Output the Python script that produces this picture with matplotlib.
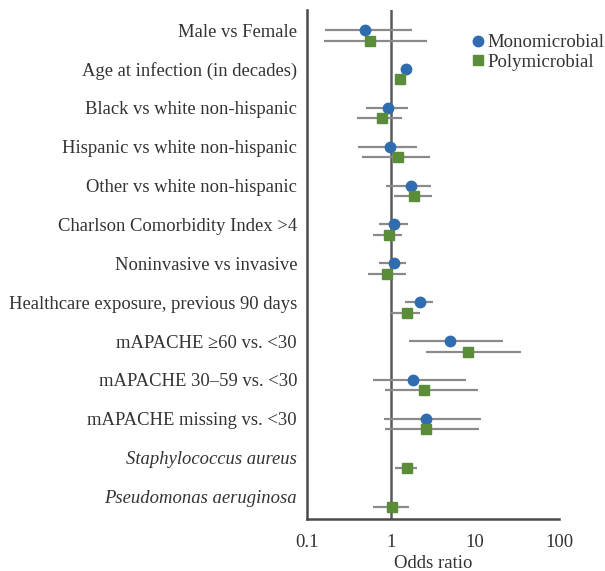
import numpy as np
import matplotlib.pyplot as plt

labels = [
    "Male vs Female",
    "Age at infection (in decades)",
    "Black vs white non-hispanic",
    "Hispanic vs white non-hispanic",
    "Other vs white non-hispanic",
    "Charlson Comorbidity Index >4",
    "Noninvasive vs invasive",
    "Healthcare exposure, previous 90 days",
    "mAPACHE \u226560 vs. <30",
    "mAPACHE 30\u201359 vs. <30",
    "mAPACHE missing vs. <30",
    "Staphylococcus aureus",
    "Pseudomonas aeruginosa",
]
italic_rows = [11, 12]

mono_or = [0.49, 1.51, 0.92, 0.99, 1.74, 1.09, 1.09, 2.24, 5.1, 1.84, 2.6, np.nan, np.nan]
mono_lo = [0.165, 1.45, 0.50, 0.41, 0.87, 0.72, 0.72, 1.47, 1.65, 0.62, 0.82, np.nan, np.nan]
mono_hi = [1.79, 1.58, 1.60, 2.06, 3.03, 1.60, 1.52, 3.2, 21.7, 7.8, 11.8, np.nan, np.nan]

poly_or = [0.57, 1.28, 0.78, 1.21, 1.89, 0.95, 0.89, 1.56, 8.2, 2.5, 2.65, 1.56, 1.02]
poly_lo = [0.16, 1.22, 0.40, 0.45, 1.09, 0.62, 0.54, 1.0, 2.6, 0.85, 0.85, 1.11, 0.61]
poly_hi = [2.7, 1.35, 1.36, 2.95, 3.1, 1.36, 1.50, 2.24, 35.0, 10.9, 11.2, 2.06, 1.65]

plt.rcParams["font.family"] = ["Liberation Serif", "DejaVu Serif"]

fig = plt.figure(figsize=(6.05, 5.71), dpi=100)
ax = fig.add_axes([0.507, 0.091, 0.417, 0.891])

y = np.arange(len(labels))
off = 0.27
grey = "#8a8a8a"
blue = "#2f6db0"
green = "#5b8c3a"

ax.axvline(1, color="#5a5a5a", lw=1.8, zorder=1)
ax.hlines(y, mono_lo, mono_hi, color=grey, lw=1.6, zorder=2)
ax.hlines(y + off, poly_lo, poly_hi, color=grey, lw=1.6, zorder=2)
ax.plot(mono_or, y, "o", color=blue, ms=7.5, ls="none", zorder=3, label="Monomicrobial")
ax.plot(poly_or, y + off, "s", color=green, ms=7.5, ls="none", zorder=3, label="Polymicrobial")

ax.set_xscale("log")
ax.set_xlim(0.1, 100)
ax.set_ylim(12.58, -0.51)
ax.set_xticks([0.1, 1, 10, 100])
ax.set_xticklabels(["0.1", "1", "10", "100"])
ax.minorticks_off()
ax.tick_params(axis="x", length=0, labelsize=13.5, colors="#333333", pad=11)
ax.set_yticks(y)
ax.set_yticklabels(labels)
ax.tick_params(axis="y", length=0, labelsize=13.4, colors="#333333", pad=7)
for i, t in enumerate(ax.get_yticklabels()):
    if i in italic_rows:
        t.set_fontstyle("italic")
ax.set_xlabel("Odds ratio", fontsize=13.5, color="#333333", labelpad=3)

for s in ["top", "right"]:
    ax.spines[s].set_visible(False)
for s in ["left", "bottom"]:
    ax.spines[s].set_color("#4a4a4a")
    ax.spines[s].set_linewidth(1.8)

ax.legend(loc="upper left", bbox_to_anchor=(0.768, 0.953), bbox_transform=fig.transFigure,
          frameon=False, fontsize=13.5, handlelength=0.6, handletextpad=0.2,
          labelspacing=0.12, borderaxespad=0, labelcolor="#333333")

fig.savefig("out.png", dpi=100)
